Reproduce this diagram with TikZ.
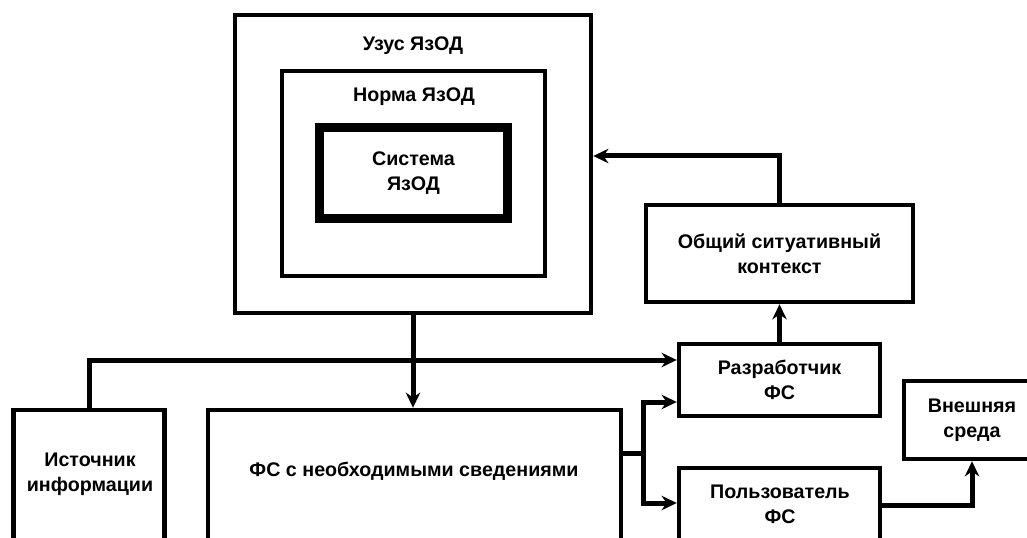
\documentclass[tikz,border=0pt]{standalone}
\usepackage{fontspec}
\setmainfont{Liberation Sans}
\usepackage{tikz}
\usetikzlibrary{positioning,arrows.meta}

\begin{document}
\begin{tikzpicture}[
		x=0.25mm, y=-0.25mm,
		rectnode/.style={rectangle, draw=black, line width=1.1mm, inner sep=0pt, align=center, font=\bfseries\fontsize{14}{18}\selectfont},
		heavynode/.style={rectnode, line width=2.2mm},
		textnode/.style={inner sep=0pt, align=center, font=\bfseries\fontsize{14}{18}\selectfont},
		arrowline/.style={line width=1.25mm, -{Stealth[length=3.8mm, width=3.6mm]}},
		plainline/.style={line width=1.25mm},
	]
		\useasboundingbox (0,0) rectangle (1027,538);
		\clip (0,0) rectangle (1027,538);

		% nodes
		\node[rectnode, minimum width=89mm, minimum height=74.5mm]		(uzus)		at (413,164)	{};
		\node[rectnode, minimum width=65.75mm, minimum height=51.25mm]	(norma)		at (413.5,173.5) {};
		\node[heavynode, minimum width=47mm, minimum height=22.75mm]	(sistema)	at (413.5,173)	{Система\\ЯзОД};
		\node[rectnode, minimum width=66.75mm, minimum height=24.25mm]	(context)	at (779.5,253.5) {Общий ситуативный\\контекст};
		\node[rectnode, minimum width=50.25mm, minimum height=18mm]		(razr)		at (779.5,380)	{Разработчик\\ФС};
		\node[rectnode, minimum width=34mm, minimum height=19.5mm]		(vnesh)		at (972,420)	{Внешняя\\среда};
		\node[rectnode, minimum width=50.25mm, minimum height=38mm]		(polz)		at (779.5,544)	{};
		\node[rectnode, minimum width=103.25mm, minimum height=52.5mm]	(fs)		at (414.5,515)	{};
		\node[rectnode, minimum width=37.75mm, minimum height=52.5mm]	(source)	at (89,515)		{};

		% texts
		\node[textnode] (uzustext)		at (413,46)		{Узус ЯзОД};
		\node[textnode] (normatext)		at (414,97)		{Норма ЯзОД};
		\node[textnode] (fstext)		at (414,471)	{ФС с необходимыми сведениями};
		\node[textnode] (sourcetext)	at (90,474)		{Источник\\информации};
		\node[textnode] (polztext)		at (780,504)	{Пользователь\\ФС};

		\coordinate (split) at (643,453);

		% lines
		\draw[arrowline] (context.north) |- (uzus.east |- 0,156);
		\draw[arrowline] (razr.north) -- (context.south);
		\draw[arrowline] (uzus.south) -- (uzus.south |- fs.north);
		\draw[arrowline] (source.north) |- ([yshift=5mm]razr.west);
		\draw[plainline] (split -| fs.east) -- (split);
		\draw[arrowline] (split) |- ([yshift=-5.5mm]razr.west);
		\draw[arrowline] (split) |- (polz.west |- 0,503);
		\draw[arrowline] (polz.east |- 0,505) -| (vnesh.south);
	\end{tikzpicture}
\end{document}
